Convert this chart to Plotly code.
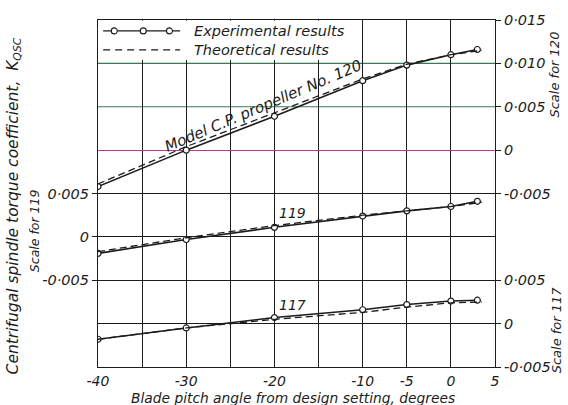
import plotly.graph_objects as go

# ---------------- data ----------------
x_exp = [-40, -30, -20, -10, -5, 0, 3]
x_th = [-40, -30, -20, -10, -5, 0, 3.5]

k120_exp = [-0.0042, 0.0000, 0.0039, 0.0080, 0.0098, 0.0110, 0.0116]
k120_th = [-0.0039, 0.0004, 0.0043, 0.0082, 0.0099, 0.0110, 0.0115]

k119_exp = [-0.0019, -0.0003, 0.0011, 0.0024, 0.0030, 0.0035, 0.0041]
k119_th = [-0.0017, -0.0001, 0.0013, 0.0025, 0.0030, 0.0035, 0.0040]

k117_exp = [-0.0018, -0.0005, 0.0007, 0.0016, 0.0022, 0.0026, 0.0027]
k117_th = [-0.0018, -0.0005, 0.0005, 0.0013, 0.0019, 0.0024, 0.0025]

x_tickvals = [-40, -35, -30, -25, -20, -15, -10, -5, 0, 5]
x_ticktext = ["-40", "", "-30", "", "-20", "", "-10", "-5", "0", "5"]

y119_tickvals = [-0.005, 0, 0.005]
y119_ticktext = ["-0·005", "0", "0·005"]
y120_tickvals = [-0.005, 0, 0.005, 0.010, 0.015]
y120_ticktext = ["-0·005", "0", "0·005", "0·010", "0·015"]
y120_green = [0.005, 0.010]
y117_tickvals = [-0.005, 0, 0.005]
y117_ticktext = ["-0·005", "0", "0·005"]

# ---------------- style ----------------
INK = "#1c1c1c"
GREEN = "#3b7a52"
MAGENTA = "#b8388c"
FAM = "DejaVu Sans"


def f(size):
    return dict(family=FAM, size=size, color=INK, style="italic")


FONT = f(14)
TICKFONT = f(14.5)

fig = go.Figure()


def add_pair(x_e, y_e, x_t, y_t, yaxis):
    fig.add_trace(go.Scatter(
        x=x_e, y=y_e, yaxis=yaxis, mode="lines+markers",
        line=dict(color=INK, width=1.6),
        marker=dict(symbol="circle", size=6, color="white",
                    line=dict(color=INK, width=1.2)),
        showlegend=False, hoverinfo="skip"))
    fig.add_trace(go.Scatter(
        x=x_t, y=y_t, yaxis=yaxis, mode="lines",
        line=dict(color=INK, width=1.3, dash="7px,4px"),
        showlegend=False, hoverinfo="skip"))


add_pair(x_exp, k120_exp, x_th, k120_th, "y2")
add_pair(x_exp, k119_exp, x_th, k119_th, "y")
add_pair(x_exp, k117_exp, x_th, k117_th, "y3")

axis_common = dict(showline=True, linecolor=INK, linewidth=1.2,
                   tickfont=TICKFONT, ticks="outside", ticklen=5,
                   tickcolor=INK, tickwidth=1)

fig.update_layout(
    width=568, height=405,
    margin=dict(l=98, r=73, t=17, b=38),
    paper_bgcolor="white", plot_bgcolor="white",
    font=FONT,
    xaxis=dict(range=[-40, 5], tickvals=x_tickvals, ticktext=x_ticktext,
               showgrid=True, gridcolor=INK, gridwidth=1, zeroline=False,
               showline=True, linecolor=INK, linewidth=1.2, mirror=True,
               ticks="", tickfont=f(14), ticklabelstandoff=1),
    yaxis=dict(range=[-0.015, 0.025], tickvals=y119_tickvals,
               ticktext=y119_ticktext, showgrid=True, gridcolor=INK,
               gridwidth=1, zeroline=False, mirror=True, **axis_common),
    yaxis2=dict(range=[-0.025, 0.015], tickvals=y120_tickvals,
                ticktext=y120_ticktext, overlaying="y", side="right",
                anchor="x", showgrid=False, zeroline=True,
                zerolinecolor=MAGENTA, zerolinewidth=1.3,
                **axis_common),
    yaxis3=dict(range=[-0.005, 0.035], tickvals=y117_tickvals,
                ticktext=y117_ticktext, overlaying="y", side="right",
                anchor="x", showgrid=True, gridcolor=INK, gridwidth=1,
                zeroline=False, **axis_common),
)

# white legend panel hiding the grid in the upper-left corner
fig.add_shape(type="rect", xref="x", yref="y", x0=-39.9, x1=-10.12,
              y0=0.0204, y1=0.0249, fillcolor="white", line_width=0,
              layer="above")

# green reference lines of the 120 scale
for gv in y120_green:
    fig.add_hline(y=gv, yref="y2", line=dict(color=GREEN, width=1.2),
                  layer="below")

# manual legend
ly1, ly2 = 0.9686, 0.914
lx0, lx1 = 0.013, 0.207
fig.add_shape(type="line", xref="paper", yref="paper", x0=lx0, x1=lx1,
              y0=ly1, y1=ly1, line=dict(color=INK, width=1.4))
for cx in [0.041, 0.114, 0.18]:
    fig.add_shape(type="circle", xref="paper", yref="paper",
                  xsizemode="pixel", ysizemode="pixel",
                  xanchor=cx, yanchor=ly1, x0=-3, x1=3, y0=-3, y1=3,
                  fillcolor="white", line=dict(color=INK, width=1.1))
fig.add_shape(type="line", xref="paper", yref="paper", x0=lx0, x1=lx1,
              y0=ly2, y1=ly2, line=dict(color=INK, width=1.3, dash="7px,5px"))
fig.add_annotation(xref="paper", yref="paper", x=0.237, y=ly1,
                   text="Experimental results", showarrow=False,
                   xanchor="left", yanchor="middle", font=f(14.5))
fig.add_annotation(xref="paper", yref="paper", x=0.237, y=ly2,
                   text="Theoretical results", showarrow=False,
                   xanchor="left", yanchor="middle", font=f(14.5))

# curve labels
fig.add_annotation(xref="x", yref="y2", x=-21.3, y=0.0051,
                   text="Model C.P. propeller No. 120", showarrow=False,
                   textangle=-23, font=f(15))
fig.add_annotation(xref="x", yref="y", x=-18.0, y=0.0027,
                   text="119", showarrow=False, font=FONT)
fig.add_annotation(xref="x", yref="y3", x=-18.0, y=0.0021,
                   text="117", showarrow=False, font=FONT)

# axis titles
fig.add_annotation(xref="paper", yref="paper", x=0.49, y=0, yshift=-31,
                   text="Blade pitch angle from design setting, degrees",
                   showarrow=False, xanchor="center", yanchor="middle",
                   font=f(13.8))
fig.add_annotation(xref="paper", yref="paper", x=0, xshift=-84,
                   y=(367 - 205) / 350, xanchor="center", yanchor="middle",
                   text="Centrifugal spindle torque coefficient,  K<sub>QSC</sub>",
                   showarrow=False, textangle=-90, font=f(15.5))
fig.add_annotation(xref="paper", yref="paper", x=0, xshift=-64,
                   y=(367 - 230) / 350, text="Scale for 119",
                   xanchor="center", yanchor="middle",
                   showarrow=False, textangle=-90, font=f(12.5))
fig.add_annotation(xref="paper", yref="paper", x=1, xshift=60,
                   y=(367 - 72) / 350, text="Scale for 120",
                   xanchor="center", yanchor="middle",
                   showarrow=False, textangle=-90, font=f(13))
fig.add_annotation(xref="paper", yref="paper", x=1, xshift=61,
                   y=(367 - 330) / 350, text="Scale for 117",
                   xanchor="center", yanchor="middle",
                   showarrow=False, textangle=-90, font=f(13))

fig.write_html("out.html")
